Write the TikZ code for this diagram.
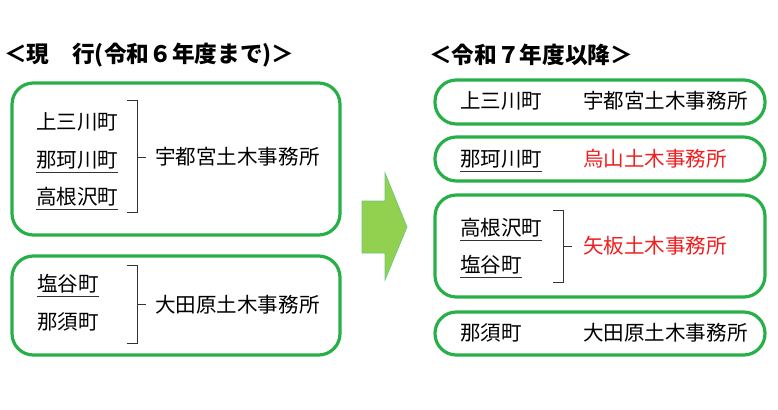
\documentclass[tikz,border=0pt]{standalone}
\usepackage{fontspec}
\setmainfont{Noto Sans CJK JP}
\definecolor{gr}{RGB}{40,176,72}
\definecolor{ag}{RGB}{146,208,80}
\definecolor{rd}{RGB}{240,30,30}
\begin{document}
\begin{tikzpicture}[x=0.75pt,y=-0.75pt,
  box/.style={draw=gr,line width=2.4pt,rounded corners=16pt},
  t/.style={anchor=west,inner sep=0pt,font=\fontsize{15.4pt}{16pt}\selectfont},
  ttl/.style={anchor=west,inner sep=0pt,font=\fontsize{17pt}{18pt}\selectfont\bfseries},
  br/.style={line width=0.6pt,black!80}]
\useasboundingbox (0,0) rectangle (778,410);
\node[ttl] (t1) at (4,55) {＜現　行(令和６年度まで)＞};
\node[ttl] (t2) at (429,55) {＜令和７年度以降＞};
% left boxes
\draw[box] (12,83) rectangle (340,235);
\draw[box] (12,256) rectangle (340,355);
\node[t] (a1) at (36,122) {上三川町};
\node[t] (a2) at (36,160) {那珂川町};
\node[t] (a3) at (36,197) {高根沢町};
\draw[br] (a2.south west)++(0,3) -- ++(82,0);
\draw[br] (a3.south west)++(0,3) -- ++(82,0);
\draw[br] (127,100) -- (137,100) -- (137,212) -- (127,212);
\draw[br] (137,157) -- (146,157);
\node[t] (o1) at (155,157) {宇都宮土木事務所};
\node[t] (b1) at (37,284) {塩谷町};
\node[t] (b2) at (37,322) {那須町};
\draw[br] (b1.south west)++(0,3) -- ++(62,0);
\draw[br] (127,265) -- (137,265) -- (137,343) -- (127,343);
\draw[br] (137,304) -- (146,304);
\node[t] (o2) at (155,305) {大田原土木事務所};
% arrow
\fill[ag,draw=gr!70,line width=0.5pt] (362,201) -- (385,201) -- (385,173) -- (407,227) -- (385,280) -- (385,253) -- (362,253) -- cycle;
% right boxes
\draw[box] (435,80) rectangle (765,124);
\draw[box] (435,137) rectangle (765,181);
\draw[box] (435,195) rectangle (765,297);
\draw[box] (435,312) rectangle (765,355);
\node[t] (c1) at (460,101) {上三川町};
\node[t] (d1) at (583,101) {宇都宮土木事務所};
\node[t] (c2) at (460,159) {那珂川町};
\draw[br] (c2.south west)++(0,3) -- ++(82,0);
\node[t,text=rd] (d2) at (583,159) {烏山土木事務所};
\node[t] (c3) at (460,228) {高根沢町};
\node[t] (c4) at (460,265) {塩谷町};
\draw[br] (c3.south west)++(0,3) -- ++(82,0);
\draw[br] (c4.south west)++(0,3) -- ++(62,0);
\draw[br] (553,210) -- (563,210) -- (563,282) -- (553,282);
\draw[br] (563,246) -- (572,246);
\node[t,text=rd] (d3) at (583,246) {矢板土木事務所};
\node[t] (c5) at (460,333) {那須町};
\node[t] (d4) at (583,333) {大田原土木事務所};
\end{tikzpicture}
\end{document}
